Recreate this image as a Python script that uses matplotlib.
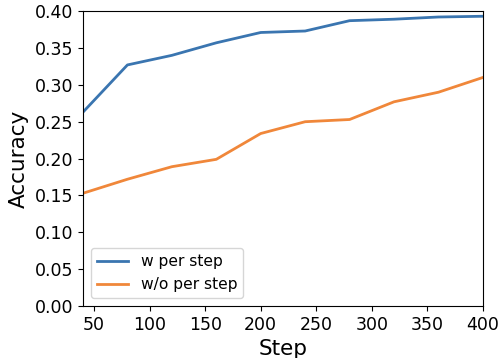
import matplotlib
matplotlib.use('Agg')
import matplotlib.pyplot as plt

steps = [40, 80, 120, 160, 200, 240, 280, 320, 360, 400]
acc_w = [0.263, 0.327, 0.340, 0.357, 0.371, 0.373, 0.387, 0.389, 0.392, 0.393]
acc_wo = [0.153, 0.172, 0.189, 0.199, 0.234, 0.250, 0.253, 0.277, 0.290, 0.310]

fig = plt.figure(figsize=(5.03, 3.58), dpi=100)
ax = fig.add_axes([0.165, 0.145, 0.795, 0.824])

ax.plot(steps, acc_w, color='#3a75b0', linewidth=2, label='w per step')
ax.plot(steps, acc_wo, color='#f0873a', linewidth=2, label='w/o per step')

ax.set_xlim(40, 400)
ax.set_ylim(0, 0.4)
ax.set_xticks([50, 100, 150, 200, 250, 300, 350, 400])
ax.set_yticks([0.0, 0.05, 0.1, 0.15, 0.2, 0.25, 0.3, 0.35, 0.4])
ax.tick_params(labelsize=12.5)
ax.set_xlabel('Step', fontsize=15.5)
ax.set_ylabel('Accuracy', fontsize=15.5)
ax.legend(loc='lower left', fontsize=11.2)

fig.savefig('out.png', dpi=100)
